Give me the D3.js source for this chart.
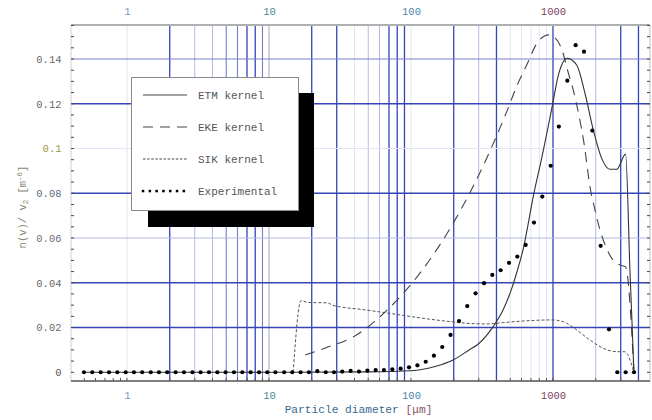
<!DOCTYPE html>
<html><head><meta charset="utf-8">
<script src="https://cdn.jsdelivr.net/npm/d3@7"></script>
<style>body{margin:0;background:#fff}svg{display:block}</style>
</head><body>
<svg id="c" width="652" height="420"></svg>
<script>
// ---------------- data ----------------
const etmX = [0.5, 15, 50, 100, 150, 198, 260, 292, 378, 445, 514, 557, 615, 735, 832, 995, 1091, 1262, 1469, 1680, 1923, 2203, 2519, 2811, 3245, 3486, 3717];
const etmY = [0, 0, 0.0002, 0.0007, 0.0027, 0.0055, 0.0102, 0.0122, 0.0203, 0.0278, 0.0377, 0.0448, 0.0547, 0.0802, 0.0956, 0.1199, 0.1328, 0.1403, 0.1373, 0.1247, 0.1083, 0.0956, 0.0907, 0.0907, 0.0975, 0.045, 0];

const ekeX = [18, 26, 39, 71, 116, 204, 260, 360, 465, 553, 668, 759, 935, 1033, 1151, 1277, 1400, 1521, 1661, 1823, 1977, 2143, 2362, 2589, 2963, 3245, 3717];
const ekeY = [0.0077, 0.0113, 0.0157, 0.029, 0.0444, 0.068, 0.0802, 0.0989, 0.1154, 0.1275, 0.1387, 0.1463, 0.1508, 0.1495, 0.1445, 0.1342, 0.1253, 0.115, 0.1016, 0.0828, 0.0725, 0.0636, 0.056, 0.051, 0.048, 0.0471, 0];

const sikX = [14.8, 16.8, 19, 26, 28, 46, 68, 116, 198, 260, 343, 447, 689, 1000, 1250, 1469, 1823, 2264, 2811, 3200, 3717];
const sikY = [0, 0.032, 0.0312, 0.031, 0.030, 0.028, 0.0265, 0.0243, 0.0225, 0.0218, 0.0216, 0.0222, 0.0231, 0.0234, 0.0219, 0.0189, 0.0144, 0.0107, 0.0092, 0.0092, 0];

const expX = [0.498, 0.570, 0.653, 0.747, 0.855, 0.979, 1.12, 1.28, 1.47, 1.68, 1.92, 2.20, 2.52, 2.89, 3.30, 3.78, 4.33, 4.95, 5.67, 6.49, 7.43, 8.51, 9.73, 11.1, 12.8, 14.6, 16.7, 19.1, 21.9, 25.1, 28.7, 32.8, 37.6, 43.0, 49.3, 56.4, 64.5, 73.9, 84.6, 96.8, 111, 127, 145, 166, 190, 218, 249, 285, 327, 374, 428, 490, 561, 642, 735, 841, 963, 1100, 1262, 1444, 1653, 1892, 2166, 2480, 2839, 3250, 3720];
const expY = [0, 0, 0, 0, 0, 0, 0, 0, 0, 0, 0, 0, 0, 0, 0, 0, 0, 0, 0, 0, 0, 0, 0, 0, 0, 0, 0, 0, 0.0005, 0, 0, 0.0003, 0.0006, 0.0003, 0.0007, 0.001, 0.001, 0.0013, 0.0016, 0.0022, 0.0031, 0.0047, 0.0074, 0.0113, 0.0167, 0.0229, 0.0296, 0.0353, 0.0398, 0.0435, 0.0456, 0.0489, 0.0517, 0.0569, 0.0669, 0.0785, 0.0923, 0.1098, 0.1303, 0.1462, 0.1433, 0.108, 0.0565, 0.0192, 0, 0, 0];

const xLabels = [1, 10, 100, 1000];
const yLabels = [0, 0.02, 0.04, 0.06, 0.08, 0.1, 0.12, 0.14];
const xGrid = [1,2,3,4,5,6,7,8,9,10,20,30,40,50,60,70,80,90,100,200,300,400,500,600,700,800,900,1000,2000,3000,4000];
const xMinorTicks = [0.5,0.6,0.7,0.8,0.9].concat(xGrid);
const legendNames = ["ETM kernel", "EKE kernel", "SIK kernel", "Experimental"];

// ---------------- styles ----------------
const gridStyles = {
  dark:   {stroke: "#3545b8", w: 1.3},
  medium: {stroke: "#7480cc", w: 1.1},
  light:  {stroke: "#b3b9e6", w: 1},
  faint:  {stroke: "#e2e4f4", w: 1},
  gray:   {stroke: "#a8a8b0", w: 1},
  fgray:  {stroke: "#e4e4e8", w: 1}
};
const xGridClass = {1:"fgray",2:"dark",3:"light",4:"light",5:"medium",6:"medium",7:"dark",8:"dark",9:"medium",10:"gray",
  20:"dark",30:"dark",40:"faint",50:"light",60:"light",70:"dark",80:"dark",90:"dark",100:"faint",
  200:"dark",300:"light",400:"dark",500:"faint",600:"faint",700:"faint",800:"faint",900:"faint",
  1000:"dark",2000:"light",3000:"dark",4000:"dark"};
const yGridClass = {0.02:"dark",0.04:"dark",0.06:"light",0.08:"dark",0.1:"faint",0.12:"dark",0.14:"medium"};
const xLabelColor = {1:"#6c9cc0",10:"#4d8590",100:"#4a84ae",1000:"#7c4262"};
const yLabelColor = {0:"#555",0.02:"#6a6a6a",0.04:"#666",0.06:"#74687e",0.08:"#5a6a80",0.1:"#98983e",0.12:"#666",0.14:"#6a6a6a"};
const FONT = "'Liberation Mono','DejaVu Sans Mono',monospace";

// ---------------- layout ----------------
const L = 71, R = 650, T = 25, B = 381;
const x = d3.scaleLog().domain([0.4034, 4822]).range([L, R]);
const y = d3.scaleLinear().domain([-0.0039, 0.1552]).range([B, T]);
const svg = d3.select("#c");

// grid
svg.append("g").selectAll("line").data(xGrid).join("line")
  .attr("x1", d => x(d)).attr("x2", d => x(d)).attr("y1", T).attr("y2", B)
  .attr("stroke", d => gridStyles[xGridClass[d]].stroke)
  .attr("stroke-width", d => gridStyles[xGridClass[d]].w);
svg.append("g").selectAll("line").data(yLabels.filter(d => d > 0)).join("line")
  .attr("x1", L).attr("x2", R).attr("y1", d => y(d)).attr("y2", d => y(d))
  .attr("stroke", d => gridStyles[yGridClass[d]].stroke)
  .attr("stroke-width", d => gridStyles[yGridClass[d]].w);

// frame
svg.append("line").attr("x1", L).attr("x2", R).attr("y1", T).attr("y2", T).attr("stroke", "#b0b0b0").attr("stroke-width", 2);
svg.append("line").attr("x1", L).attr("x2", L).attr("y1", T).attr("y2", B).attr("stroke", "#d0d0d0").attr("stroke-width", 1);
svg.append("line").attr("x1", R).attr("x2", R).attr("y1", T).attr("y2", B).attr("stroke", "#c0c0c0").attr("stroke-width", 1);
svg.append("line").attr("x1", L).attr("x2", R).attr("y1", B).attr("y2", B).attr("stroke", "#555").attr("stroke-width", 1.5);

// minor ticks
const yMinor = d3.range(0, 0.1551, 0.005);
svg.append("g").selectAll("line").data(yMinor).join("line")
  .attr("x1", L).attr("x2", L + 3).attr("y1", d => y(d)).attr("y2", d => y(d)).attr("stroke", "#444");
svg.append("g").selectAll("line").data(yMinor).join("line")
  .attr("x1", R - 3).attr("x2", R).attr("y1", d => y(d)).attr("y2", d => y(d)).attr("stroke", "#444");
svg.append("g").selectAll("line").data(xMinorTicks).join("line")
  .attr("x1", d => x(d)).attr("x2", d => x(d)).attr("y1", B - 3).attr("y2", B).attr("stroke", "#555");

// axes labels
function styleAxis(g, colorMap) {
  g.select(".domain").remove();
  g.selectAll("text").attr("font-family", FONT).attr("font-size", "10.5px")
    .attr("fill", d => colorMap[d]);
}
svg.append("g").attr("transform", `translate(0,${B})`)
  .call(d3.axisBottom(x).tickValues(xLabels).tickFormat(d3.format("d")).tickSize(0).tickPadding(11))
  .call(g => styleAxis(g, xLabelColor));
svg.append("g").attr("transform", `translate(0,${T})`)
  .call(d3.axisTop(x).tickValues(xLabels).tickFormat(d3.format("d")).tickSize(0).tickPadding(10))
  .call(g => styleAxis(g, xLabelColor));
svg.append("g").attr("transform", `translate(${L},0)`)
  .call(d3.axisLeft(y).tickValues(yLabels).tickFormat(d => String(+d.toFixed(2))).tickSize(0).tickPadding(9.5))
  .call(g => styleAxis(g, yLabelColor));

// titles
const xt = svg.append("text").attr("x", 358.5).attr("y", 413).attr("text-anchor", "middle")
  .attr("font-family", FONT).attr("font-size", "11.2px");
xt.append("tspan").attr("fill", "#35698e").text("Particle diameter ");
xt.append("tspan").attr("fill", "#8a5264").text("[μm]");

const yt = svg.append("text").attr("transform", "translate(26,207) rotate(-90)").attr("text-anchor", "middle")
  .attr("font-family", FONT).attr("font-size", "10.5px").attr("fill", "#86866c");
yt.append("tspan").text("n(v)/ v");
yt.append("tspan").attr("font-size", "7.5px").attr("dy", 2).text("2");
yt.append("tspan").attr("dy", -2).text(" [m");
yt.append("tspan").attr("font-size", "7.5px").attr("dy", -4).text("-6");
yt.append("tspan").attr("dy", 4).text("]");

// curves
const line = d3.line().x(d => x(d[0])).y(d => y(d[1])).curve(d3.curveMonotoneX);
const zipS = (a, b) => a.map((v, i) => [v, b[i]]);
svg.append("path").datum(zipS(sikX, sikY)).attr("d", line).attr("fill", "none")
  .attr("stroke", "#555").attr("stroke-width", 1).attr("stroke-dasharray", "3,2");
svg.append("path").datum(zipS(ekeX, ekeY)).attr("d", line).attr("fill", "none")
  .attr("stroke", "#444").attr("stroke-width", 1.1).attr("stroke-dasharray", "10,7");
svg.append("path").datum(zipS(etmX, etmY)).attr("d", line).attr("fill", "none")
  .attr("stroke", "#333").attr("stroke-width", 1.1);
svg.append("g").selectAll("circle").data(zipS(expX, expY)).join("circle")
  .attr("cx", d => x(d[0])).attr("cy", d => y(d[1])).attr("r", 2.1).attr("fill", "#000");

// legend
const lg = svg.append("g");
lg.append("rect").attr("x", 148).attr("y", 93).attr("width", 166).attr("height", 134).attr("fill", "#000");
lg.append("rect").attr("x", 131.5).attr("y", 77.5).attr("width", 167).attr("height", 133)
  .attr("fill", "#fff").attr("stroke", "#8a8a8a").attr("stroke-width", 1);
const rowY = [95, 127, 159, 191];
const styles = [
  {dash: null, w: 1.2, c: "#444"},
  {dash: "10,7", w: 1.2, c: "#444"},
  {dash: "2.5,1.6", w: 1, c: "#444"},
  null
];
legendNames.forEach((name, i) => {
  const yy = rowY[i];
  if (styles[i]) {
    lg.append("line").attr("x1", 143).attr("x2", 187).attr("y1", yy).attr("y2", yy)
      .attr("stroke", styles[i].c).attr("stroke-width", styles[i].w)
      .attr("stroke-dasharray", styles[i].dash);
  } else {
    lg.append("g").selectAll("rect").data(d3.range(7)).join("rect")
      .attr("x", k => 143 + k * 6.8 - 1.2).attr("y", yy - 1.2).attr("width", 2.5).attr("height", 2.5).attr("fill", "#000");
  }
  lg.append("text").attr("x", 198).attr("y", yy).attr("dy", "0.35em")
    .attr("font-family", FONT).attr("font-size", "11px").attr("fill", "#555").text(name);
});
</script>
</body></html>
